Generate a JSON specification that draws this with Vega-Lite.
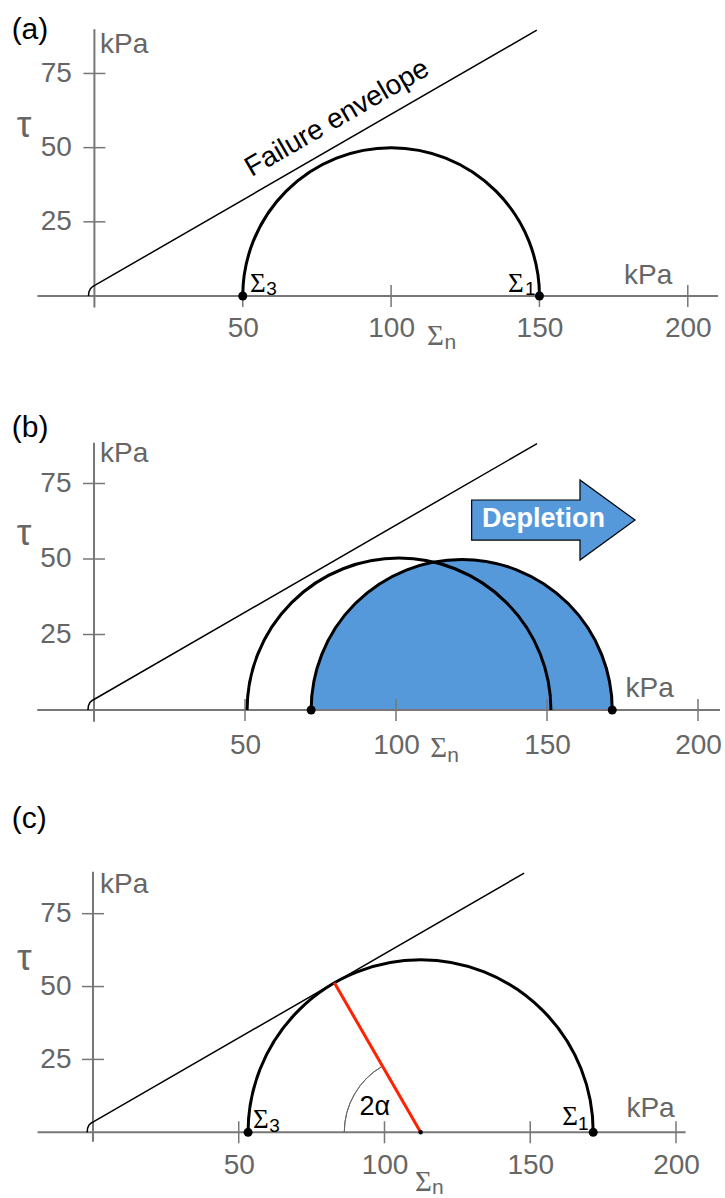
{
  "$schema": "https://vega.github.io/schema/vega-lite/v6.json",
  "padding": 0,
  "spacing": 0,
  "config": {"view": {"stroke": null}, "font": "Liberation Sans", "axis": {"labelFont": "Liberation Sans"}},
  "datasets": {
    "axis_lines": [
      {"panel": "a", "sigma_n": -19.2, "sigma_n2": 210.2, "tau": 0, "tau2": 0},
      {"panel": "a", "sigma_n": 0, "sigma_n2": 0, "tau": -3.9, "tau2": 89.9},
      {"panel": "b", "sigma_n": -18.8, "sigma_n2": 207.3, "tau": 0, "tau2": 0},
      {"panel": "b", "sigma_n": 0, "sigma_n2": 0, "tau": -3.9, "tau2": 88.5},
      {"panel": "c", "sigma_n": -19, "sigma_n2": 203.3, "tau": 0, "tau2": 0},
      {"panel": "c", "sigma_n": 0, "sigma_n2": 0, "tau": -3.2, "tau2": 89.4}
    ],
    "ticks": [
      {"panel": "a", "axis": "x", "sigma_n": 50, "tau": 0},
      {"panel": "a", "axis": "x", "sigma_n": 100, "tau": 0},
      {"panel": "a", "axis": "x", "sigma_n": 150, "tau": 0},
      {"panel": "a", "axis": "x", "sigma_n": 200, "tau": 0},
      {"panel": "a", "axis": "y", "sigma_n": 0, "tau": 25},
      {"panel": "a", "axis": "y", "sigma_n": 0, "tau": 50},
      {"panel": "a", "axis": "y", "sigma_n": 0, "tau": 75},
      {"panel": "b", "axis": "x", "sigma_n": 50, "tau": 0},
      {"panel": "b", "axis": "x", "sigma_n": 100, "tau": 0},
      {"panel": "b", "axis": "x", "sigma_n": 150, "tau": 0},
      {"panel": "b", "axis": "x", "sigma_n": 200, "tau": 0},
      {"panel": "b", "axis": "y", "sigma_n": 0, "tau": 25},
      {"panel": "b", "axis": "y", "sigma_n": 0, "tau": 50},
      {"panel": "b", "axis": "y", "sigma_n": 0, "tau": 75},
      {"panel": "c", "axis": "x", "sigma_n": 50, "tau": 0},
      {"panel": "c", "axis": "x", "sigma_n": 100, "tau": 0},
      {"panel": "c", "axis": "x", "sigma_n": 150, "tau": 0},
      {"panel": "c", "axis": "x", "sigma_n": 200, "tau": 0},
      {"panel": "c", "axis": "y", "sigma_n": 0, "tau": 25},
      {"panel": "c", "axis": "y", "sigma_n": 0, "tau": 50},
      {"panel": "c", "axis": "y", "sigma_n": 0, "tau": 75}
    ],
    "envelope": [
      {"panel": "a", "order": 1, "sigma_n": -2.0, "tau": 0},
      {"panel": "a", "order": 2, "sigma_n": -1.85, "tau": 1.4},
      {"panel": "a", "order": 3, "sigma_n": -1.35, "tau": 2.5},
      {"panel": "a", "order": 4, "sigma_n": -0.6, "tau": 3.2},
      {"panel": "a", "order": 5, "sigma_n": 0.4, "tau": 3.73},
      {"panel": "a", "order": 6, "sigma_n": 149.1, "tau": 89.6},
      {"panel": "b", "order": 1, "sigma_n": -2.0, "tau": 0},
      {"panel": "b", "order": 2, "sigma_n": -1.85, "tau": 1.4},
      {"panel": "b", "order": 3, "sigma_n": -1.35, "tau": 2.5},
      {"panel": "b", "order": 4, "sigma_n": -0.6, "tau": 3.2},
      {"panel": "b", "order": 5, "sigma_n": 0.4, "tau": 3.73},
      {"panel": "b", "order": 6, "sigma_n": 146.7, "tau": 88.2},
      {"panel": "c", "order": 1, "sigma_n": -2.0, "tau": 0},
      {"panel": "c", "order": 2, "sigma_n": -1.85, "tau": 1.4},
      {"panel": "c", "order": 3, "sigma_n": -1.35, "tau": 2.5},
      {"panel": "c", "order": 4, "sigma_n": -0.6, "tau": 3.2},
      {"panel": "c", "order": 5, "sigma_n": 0.4, "tau": 3.73},
      {"panel": "c", "order": 6, "sigma_n": 147.9, "tau": 88.9}
    ],
    "circles": [
      {"panel": "a", "role": "state", "sigma_n": 100, "tau": 0, "r": 50, "start": -90, "end": 90},
      {"panel": "b", "role": "state", "sigma_n": 101, "tau": 0, "r": 50.3, "start": -90, "end": 90},
      {"panel": "b", "role": "depleted", "sigma_n": 121.75, "tau": 0, "r": 49.85, "start": -90, "end": 90},
      {"panel": "c", "role": "state", "sigma_n": 112.4, "tau": 0, "r": 59.2, "start": -90, "end": 90}
    ],
    "angle_arcs": [
      {"panel": "c", "sigma_n": 112.4, "tau": 0, "r": 26.2, "start": -90, "end": -30}
    ],
    "radius_lines": [
      {"panel": "c", "sigma_n": 112.4, "tau": 0, "sigma_n2": 82.8, "tau2": 51.3}
    ],
    "points": [
      {"panel": "a", "kind": "principal", "sigma_n": 50, "tau": 0},
      {"panel": "a", "kind": "principal", "sigma_n": 150, "tau": 0},
      {"panel": "b", "kind": "principal", "sigma_n": 71.9, "tau": 0},
      {"panel": "b", "kind": "principal", "sigma_n": 171.6, "tau": 0},
      {"panel": "c", "kind": "principal", "sigma_n": 53.2, "tau": 0},
      {"panel": "c", "kind": "principal", "sigma_n": 171.6, "tau": 0},
      {"panel": "c", "kind": "centre", "sigma_n": 112.4, "tau": 0}
    ],
    "arrows": [
      {"panel": "b", "sigma_n": 152.1, "tau": 62.9}
    ],
    "labels": [
      {"panel": "a", "role": "tag", "sigma_n": -27.9, "tau": 86.7, "text": "(a)"},
      {"panel": "a", "role": "symbol", "sigma_n": -26.2, "tau": 53.6, "text": "τ"},
      {"panel": "a", "role": "unit", "sigma_n": 1.9, "tau": 81.9, "text": "kPa"},
      {"panel": "a", "role": "unit", "sigma_n": 178.5, "tau": 4.0, "text": "kPa"},
      {"panel": "a", "role": "stress_sym", "sigma_n": 52.4, "tau": 1.45, "text": "Σ"},
      {"panel": "a", "role": "stress_sub", "sigma_n": 57.9, "tau": 0.34, "text": "3"},
      {"panel": "a", "role": "stress_sym", "sigma_n": 139.4, "tau": 1.45, "text": "Σ"},
      {"panel": "a", "role": "stress_sub", "sigma_n": 145.1, "tau": 0.34, "text": "1"},
      {"panel": "a", "role": "normal_sym", "sigma_n": 112.1, "tau": -16.5, "text": "Σ"},
      {"panel": "a", "role": "normal_sub", "sigma_n": 118.0, "tau": -17.9, "text": "n"},
      {"panel": "a", "role": "envelope", "sigma_n": 83.2, "tau": 57.5, "text": "Failure envelope"},
      {"panel": "b", "role": "tag", "sigma_n": -27.25, "tau": 90.4, "text": "(b)"},
      {"panel": "b", "role": "symbol", "sigma_n": -25.6, "tau": 54.6, "text": "τ"},
      {"panel": "b", "role": "unit", "sigma_n": 2.0, "tau": 82.2, "text": "kPa"},
      {"panel": "b", "role": "unit", "sigma_n": 176.0, "tau": 4.2, "text": "kPa"},
      {"panel": "b", "role": "normal_sym", "sigma_n": 111.3, "tau": -15.6, "text": "Σ"},
      {"panel": "b", "role": "normal_sub", "sigma_n": 117.0, "tau": -17.2, "text": "n"},
      {"panel": "b", "role": "process", "sigma_n": 148.8, "tau": 60.6, "text": "Depletion"},
      {"panel": "c", "role": "tag", "sigma_n": -27.9, "tau": 104.4, "text": "(c)"},
      {"panel": "c", "role": "symbol", "sigma_n": -26.1, "tau": 55.7, "text": "τ"},
      {"panel": "c", "role": "unit", "sigma_n": 2.4, "tau": 82.1, "text": "kPa"},
      {"panel": "c", "role": "unit", "sigma_n": 183.0, "tau": 5.4, "text": "kPa"},
      {"panel": "c", "role": "stress_sym", "sigma_n": 54.9, "tau": 1.5, "text": "Σ"},
      {"panel": "c", "role": "stress_sub", "sigma_n": 60.5, "tau": 0.2, "text": "3"},
      {"panel": "c", "role": "stress_sym", "sigma_n": 161.0, "tau": 2.5, "text": "Σ"},
      {"panel": "c", "role": "stress_sub", "sigma_n": 166.4, "tau": 0.8, "text": "1"},
      {"panel": "c", "role": "normal_sym", "sigma_n": 110.5, "tau": -20.1, "text": "Σ"},
      {"panel": "c", "role": "normal_sub", "sigma_n": 116.3, "tau": -21.2, "text": "n"},
      {"panel": "c", "role": "angle", "sigma_n": 96.7, "tau": 5.9, "text": "2α"}
    ]
  },
  "vconcat": [
    {
      "width": 725,
      "height": 390,
      "encoding": {
        "x": {"field": "sigma_n", "type": "quantitative", "scale": {"domain": [-31.82, 212.54], "nice": false, "zero": false},
              "axis": {"orient": "bottom", "values": [50, 100, 150, 200], "offset": -75.2, "domain": false, "ticks": false, "tickSize": 0, "grid": false, "labelPadding": 0, "labelFontSize": 28, "labelColor": "#666", "labelFlush": false, "labelOverlap": false, "title": null}},
        "y": {"field": "tau", "type": "quantitative", "scale": {"domain": [-31.68, 99.76], "nice": false, "zero": false},
              "axis": {"orient": "left", "values": [25, 50, 75], "offset": -94.4, "domain": false, "ticks": false, "tickSize": 0, "grid": false, "labelPadding": 23, "labelFontSize": 28, "labelColor": "#666", "labelFlush": false, "labelOverlap": false, "title": null}}
      },
      "layer": [
        {"data": {"name": "axis_lines"}, "transform": [{"filter": "datum.panel === 'a'"}],
         "mark": {"type": "rule", "color": "#777", "strokeWidth": 2},
         "encoding": {"x2": {"field": "sigma_n2"}, "y2": {"field": "tau2"}}},
        {"data": {"name": "ticks"}, "transform": [{"filter": "datum.panel === 'a' && datum.axis === 'x'"}],
         "mark": {"type": "tick", "orient": "vertical", "size": 22, "thickness": 1.5, "color": "#777", "opacity": 1}},
        {"data": {"name": "ticks"}, "transform": [{"filter": "datum.panel === 'a' && datum.axis === 'y'"}],
         "mark": {"type": "tick", "orient": "horizontal", "size": 22, "thickness": 1.5, "color": "#777", "opacity": 1}},
        {"data": {"name": "envelope"}, "transform": [{"filter": "datum.panel === 'a'"}],
         "mark": {"type": "line", "color": "black", "strokeWidth": 1.5},
         "encoding": {"order": {"field": "order", "type": "quantitative"}}},
        {"data": {"name": "circles"}, "transform": [{"filter": "datum.panel === 'a'"}],
         "mark": {"type": "arc", "fill": "transparent", "stroke": "black", "strokeWidth": 3},
         "encoding": {
           "theta": {"field": "start", "type": "quantitative", "stack": null, "scale": {"type": "linear", "domain": [-180, 180], "range": [-3.14159265, 3.14159265]}},
           "theta2": {"field": "end"},
           "radius": {"field": "r", "type": "quantitative", "stack": null, "scale": {"type": "linear", "zero": true, "domain": [0, 100], "range": [0, 296.7]}},
           "radius2": {"field": "r"}
         }},
        {"data": {"name": "points"}, "transform": [{"filter": "datum.panel === 'a' && datum.kind === 'principal'"}],
         "mark": {"type": "point", "shape": "circle", "filled": true, "color": "black", "size": 81, "opacity": 1}},
        {"data": {"name": "labels"}, "transform": [{"filter": "datum.panel === 'a' && datum.role === 'tag'"}],
         "mark": {"type": "text", "align": "left", "baseline": "alphabetic", "fontSize": 30, "color": "black"},
         "encoding": {"text": {"field": "text"}}},
        {"data": {"name": "labels"}, "transform": [{"filter": "datum.panel === 'a' && datum.role === 'symbol'"}],
         "mark": {"type": "text", "align": "left", "baseline": "alphabetic", "fontSize": 37, "color": "#666"},
         "encoding": {"text": {"field": "text"}}},
        {"data": {"name": "labels"}, "transform": [{"filter": "datum.panel === 'a' && datum.role === 'unit'"}],
         "mark": {"type": "text", "align": "left", "baseline": "alphabetic", "fontSize": 28, "color": "#666"},
         "encoding": {"text": {"field": "text"}}},
        {"data": {"name": "labels"}, "transform": [{"filter": "datum.panel === 'a' && datum.role === 'stress_sym'"}],
         "mark": {"type": "text", "align": "left", "baseline": "alphabetic", "fontSize": 27, "font": "Liberation Serif", "color": "black"},
         "encoding": {"text": {"field": "text"}}},
        {"data": {"name": "labels"}, "transform": [{"filter": "datum.panel === 'a' && datum.role === 'stress_sub'"}],
         "mark": {"type": "text", "align": "left", "baseline": "alphabetic", "fontSize": 19, "color": "black"},
         "encoding": {"text": {"field": "text"}}},
        {"data": {"name": "labels"}, "transform": [{"filter": "datum.panel === 'a' && datum.role === 'normal_sym'"}],
         "mark": {"type": "text", "align": "left", "baseline": "alphabetic", "fontSize": 29, "font": "Liberation Serif", "color": "#666"},
         "encoding": {"text": {"field": "text"}}},
        {"data": {"name": "labels"}, "transform": [{"filter": "datum.panel === 'a' && datum.role === 'normal_sub'"}],
         "mark": {"type": "text", "align": "left", "baseline": "alphabetic", "fontSize": 21, "color": "#666"},
         "encoding": {"text": {"field": "text"}}},
        {"data": {"name": "labels"}, "transform": [{"filter": "datum.panel === 'a' && datum.role === 'envelope'"}],
         "mark": {"type": "text", "align": "center", "baseline": "alphabetic", "fontSize": 28, "angle": -30, "color": "black"},
         "encoding": {"text": {"field": "text"}}}
      ]
    },
    {
      "width": 725,
      "height": 400,
      "encoding": {
        "x": {"field": "sigma_n", "type": "quantitative", "scale": {"domain": [-31.13, 208.94], "nice": false, "zero": false},
              "axis": {"orient": "bottom", "values": [50, 100, 150, 200], "offset": -58.6, "domain": false, "ticks": false, "tickSize": 0, "grid": false, "labelPadding": 0, "labelFontSize": 28, "labelColor": "#666", "labelFlush": false, "labelOverlap": false, "title": null}},
        "y": {"field": "tau", "type": "quantitative", "scale": {"domain": [-26.49, 105.96], "nice": false, "zero": false},
              "axis": {"orient": "left", "values": [25, 50, 75], "offset": -94, "domain": false, "ticks": false, "tickSize": 0, "grid": false, "labelPadding": 23, "labelFontSize": 28, "labelColor": "#666", "labelFlush": false, "labelOverlap": false, "title": null}}
      },
      "layer": [
        {"data": {"name": "circles"}, "transform": [{"filter": "datum.panel === 'b' && datum.role === 'depleted'"}],
         "mark": {"type": "arc", "fill": "#5599db", "strokeWidth": 0},
         "encoding": {
           "theta": {"field": "start", "type": "quantitative", "stack": null, "scale": {"type": "linear", "domain": [-180, 180], "range": [-3.14159265, 3.14159265]}},
           "theta2": {"field": "end"},
           "radius": {"field": "r", "type": "quantitative", "stack": null, "scale": {"type": "linear", "zero": true, "domain": [0, 100], "range": [0, 302]}}
         }},
        {"data": {"name": "axis_lines"}, "transform": [{"filter": "datum.panel === 'b'"}],
         "mark": {"type": "rule", "color": "#777", "strokeWidth": 2},
         "encoding": {"x2": {"field": "sigma_n2"}, "y2": {"field": "tau2"}}},
        {"data": {"name": "ticks"}, "transform": [{"filter": "datum.panel === 'b' && datum.axis === 'x'"}],
         "mark": {"type": "tick", "orient": "vertical", "size": 22, "thickness": 1.5, "color": "#777", "opacity": 1}},
        {"data": {"name": "ticks"}, "transform": [{"filter": "datum.panel === 'b' && datum.axis === 'y'"}],
         "mark": {"type": "tick", "orient": "horizontal", "size": 22, "thickness": 1.5, "color": "#777", "opacity": 1}},
        {"data": {"name": "envelope"}, "transform": [{"filter": "datum.panel === 'b'"}],
         "mark": {"type": "line", "color": "black", "strokeWidth": 1.5},
         "encoding": {"order": {"field": "order", "type": "quantitative"}}},
        {"data": {"name": "circles"}, "transform": [{"filter": "datum.panel === 'b'"}],
         "mark": {"type": "arc", "fill": "transparent", "stroke": "black", "strokeWidth": 3},
         "encoding": {
           "theta": {"field": "start", "type": "quantitative", "stack": null, "scale": {"type": "linear", "domain": [-180, 180], "range": [-3.14159265, 3.14159265]}},
           "theta2": {"field": "end"},
           "radius": {"field": "r", "type": "quantitative", "stack": null, "scale": {"type": "linear", "zero": true, "domain": [0, 100], "range": [0, 302]}},
           "radius2": {"field": "r"}
         }},
        {"data": {"name": "points"}, "transform": [{"filter": "datum.panel === 'b' && datum.kind === 'principal'"}],
         "mark": {"type": "point", "shape": "circle", "filled": true, "color": "black", "size": 81, "opacity": 1}},
        {"data": {"name": "arrows"}, "transform": [{"filter": "datum.panel === 'b'"}],
         "mark": {"type": "point", "shape": "M-1,-0.245L0.326,-0.245L0.326,-0.49L1,0L0.326,0.49L0.326,0.245L-1,0.245Z", "size": 26700, "filled": true, "fill": "#5599db", "stroke": "black", "strokeWidth": 1.2, "opacity": 1}},
        {"data": {"name": "labels"}, "transform": [{"filter": "datum.panel === 'b' && datum.role === 'process'"}],
         "mark": {"type": "text", "align": "center", "baseline": "alphabetic", "fontSize": 27, "fontWeight": "bold", "color": "white"},
         "encoding": {"text": {"field": "text"}}},
        {"data": {"name": "labels"}, "transform": [{"filter": "datum.panel === 'b' && datum.role === 'tag'"}],
         "mark": {"type": "text", "align": "left", "baseline": "alphabetic", "fontSize": 30, "color": "black"},
         "encoding": {"text": {"field": "text"}}},
        {"data": {"name": "labels"}, "transform": [{"filter": "datum.panel === 'b' && datum.role === 'symbol'"}],
         "mark": {"type": "text", "align": "left", "baseline": "alphabetic", "fontSize": 37, "color": "#666"},
         "encoding": {"text": {"field": "text"}}},
        {"data": {"name": "labels"}, "transform": [{"filter": "datum.panel === 'b' && datum.role === 'unit'"}],
         "mark": {"type": "text", "align": "left", "baseline": "alphabetic", "fontSize": 28, "color": "#666"},
         "encoding": {"text": {"field": "text"}}},
        {"data": {"name": "labels"}, "transform": [{"filter": "datum.panel === 'b' && datum.role === 'normal_sym'"}],
         "mark": {"type": "text", "align": "left", "baseline": "alphabetic", "fontSize": 29, "font": "Liberation Serif", "color": "#666"},
         "encoding": {"text": {"field": "text"}}},
        {"data": {"name": "labels"}, "transform": [{"filter": "datum.panel === 'b' && datum.role === 'normal_sub'"}],
         "mark": {"type": "text", "align": "left", "baseline": "alphabetic", "fontSize": 21, "color": "#666"},
         "encoding": {"text": {"field": "text"}}}
      ]
    },
    {
      "width": 725,
      "height": 406,
      "encoding": {
        "x": {"field": "sigma_n", "type": "quantitative", "scale": {"domain": [-31.9, 216.81], "nice": false, "zero": false},
              "axis": {"orient": "bottom", "values": [50, 100, 150, 200], "offset": -44.9, "domain": false, "ticks": false, "tickSize": 0, "grid": false, "labelPadding": 0, "labelFontSize": 28, "labelColor": "#666", "labelFlush": false, "labelOverlap": false, "title": null}},
        "y": {"field": "tau", "type": "quantitative", "scale": {"domain": [-21.85, 117.43], "nice": false, "zero": false},
              "axis": {"orient": "left", "values": [25, 50, 75], "offset": -93, "domain": false, "ticks": false, "tickSize": 0, "grid": false, "labelPadding": 22, "labelFontSize": 28, "labelColor": "#666", "labelFlush": false, "labelOverlap": false, "title": null}}
      },
      "layer": [
        {"data": {"name": "axis_lines"}, "transform": [{"filter": "datum.panel === 'c'"}],
         "mark": {"type": "rule", "color": "#777", "strokeWidth": 2},
         "encoding": {"x2": {"field": "sigma_n2"}, "y2": {"field": "tau2"}}},
        {"data": {"name": "ticks"}, "transform": [{"filter": "datum.panel === 'c' && datum.axis === 'x'"}],
         "mark": {"type": "tick", "orient": "vertical", "size": 22, "thickness": 1.5, "color": "#777", "opacity": 1}},
        {"data": {"name": "ticks"}, "transform": [{"filter": "datum.panel === 'c' && datum.axis === 'y'"}],
         "mark": {"type": "tick", "orient": "horizontal", "size": 22, "thickness": 1.5, "color": "#777", "opacity": 1}},
        {"data": {"name": "envelope"}, "transform": [{"filter": "datum.panel === 'c'"}],
         "mark": {"type": "line", "color": "black", "strokeWidth": 1.5},
         "encoding": {"order": {"field": "order", "type": "quantitative"}}},
        {"data": {"name": "angle_arcs"}, "transform": [{"filter": "datum.panel === 'c'"}],
         "mark": {"type": "arc", "fill": "transparent", "stroke": "#666", "strokeWidth": 1},
         "encoding": {
           "theta": {"field": "start", "type": "quantitative", "stack": null, "scale": {"type": "linear", "domain": [-180, 180], "range": [-3.14159265, 3.14159265]}},
           "theta2": {"field": "end"},
           "radius": {"field": "r", "type": "quantitative", "stack": null, "scale": {"type": "linear", "zero": true, "domain": [0, 100], "range": [0, 291.5]}},
           "radius2": {"field": "r"}
         }},
        {"data": {"name": "circles"}, "transform": [{"filter": "datum.panel === 'c'"}],
         "mark": {"type": "arc", "fill": "transparent", "stroke": "black", "strokeWidth": 3},
         "encoding": {
           "theta": {"field": "start", "type": "quantitative", "stack": null, "scale": {"type": "linear", "domain": [-180, 180], "range": [-3.14159265, 3.14159265]}},
           "theta2": {"field": "end"},
           "radius": {"field": "r", "type": "quantitative", "stack": null, "scale": {"type": "linear", "zero": true, "domain": [0, 100], "range": [0, 291.5]}},
           "radius2": {"field": "r"}
         }},
        {"data": {"name": "radius_lines"}, "transform": [{"filter": "datum.panel === 'c'"}],
         "mark": {"type": "rule", "color": "#ff2200", "strokeWidth": 3},
         "encoding": {"x2": {"field": "sigma_n2"}, "y2": {"field": "tau2"}}},
        {"data": {"name": "points"}, "transform": [{"filter": "datum.panel === 'c' && datum.kind === 'principal'"}],
         "mark": {"type": "point", "shape": "circle", "filled": true, "color": "black", "size": 81, "opacity": 1}},
        {"data": {"name": "points"}, "transform": [{"filter": "datum.panel === 'c' && datum.kind === 'centre'"}],
         "mark": {"type": "point", "shape": "circle", "filled": true, "color": "black", "size": 20, "opacity": 1}},
        {"data": {"name": "labels"}, "transform": [{"filter": "datum.panel === 'c' && datum.role === 'tag'"}],
         "mark": {"type": "text", "align": "left", "baseline": "alphabetic", "fontSize": 30, "color": "black"},
         "encoding": {"text": {"field": "text"}}},
        {"data": {"name": "labels"}, "transform": [{"filter": "datum.panel === 'c' && datum.role === 'symbol'"}],
         "mark": {"type": "text", "align": "left", "baseline": "alphabetic", "fontSize": 37, "color": "#666"},
         "encoding": {"text": {"field": "text"}}},
        {"data": {"name": "labels"}, "transform": [{"filter": "datum.panel === 'c' && datum.role === 'unit'"}],
         "mark": {"type": "text", "align": "left", "baseline": "alphabetic", "fontSize": 28, "color": "#666"},
         "encoding": {"text": {"field": "text"}}},
        {"data": {"name": "labels"}, "transform": [{"filter": "datum.panel === 'c' && datum.role === 'stress_sym'"}],
         "mark": {"type": "text", "align": "left", "baseline": "alphabetic", "fontSize": 27, "font": "Liberation Serif", "color": "black"},
         "encoding": {"text": {"field": "text"}}},
        {"data": {"name": "labels"}, "transform": [{"filter": "datum.panel === 'c' && datum.role === 'stress_sub'"}],
         "mark": {"type": "text", "align": "left", "baseline": "alphabetic", "fontSize": 19, "color": "black"},
         "encoding": {"text": {"field": "text"}}},
        {"data": {"name": "labels"}, "transform": [{"filter": "datum.panel === 'c' && datum.role === 'normal_sym'"}],
         "mark": {"type": "text", "align": "left", "baseline": "alphabetic", "fontSize": 29, "font": "Liberation Serif", "color": "#666"},
         "encoding": {"text": {"field": "text"}}},
        {"data": {"name": "labels"}, "transform": [{"filter": "datum.panel === 'c' && datum.role === 'normal_sub'"}],
         "mark": {"type": "text", "align": "left", "baseline": "alphabetic", "fontSize": 21, "color": "#666"},
         "encoding": {"text": {"field": "text"}}},
        {"data": {"name": "labels"}, "transform": [{"filter": "datum.panel === 'c' && datum.role === 'angle'"}],
         "mark": {"type": "text", "align": "center", "baseline": "alphabetic", "fontSize": 27, "color": "black"},
         "encoding": {"text": {"field": "text"}}}
      ]
    }
  ]
}
